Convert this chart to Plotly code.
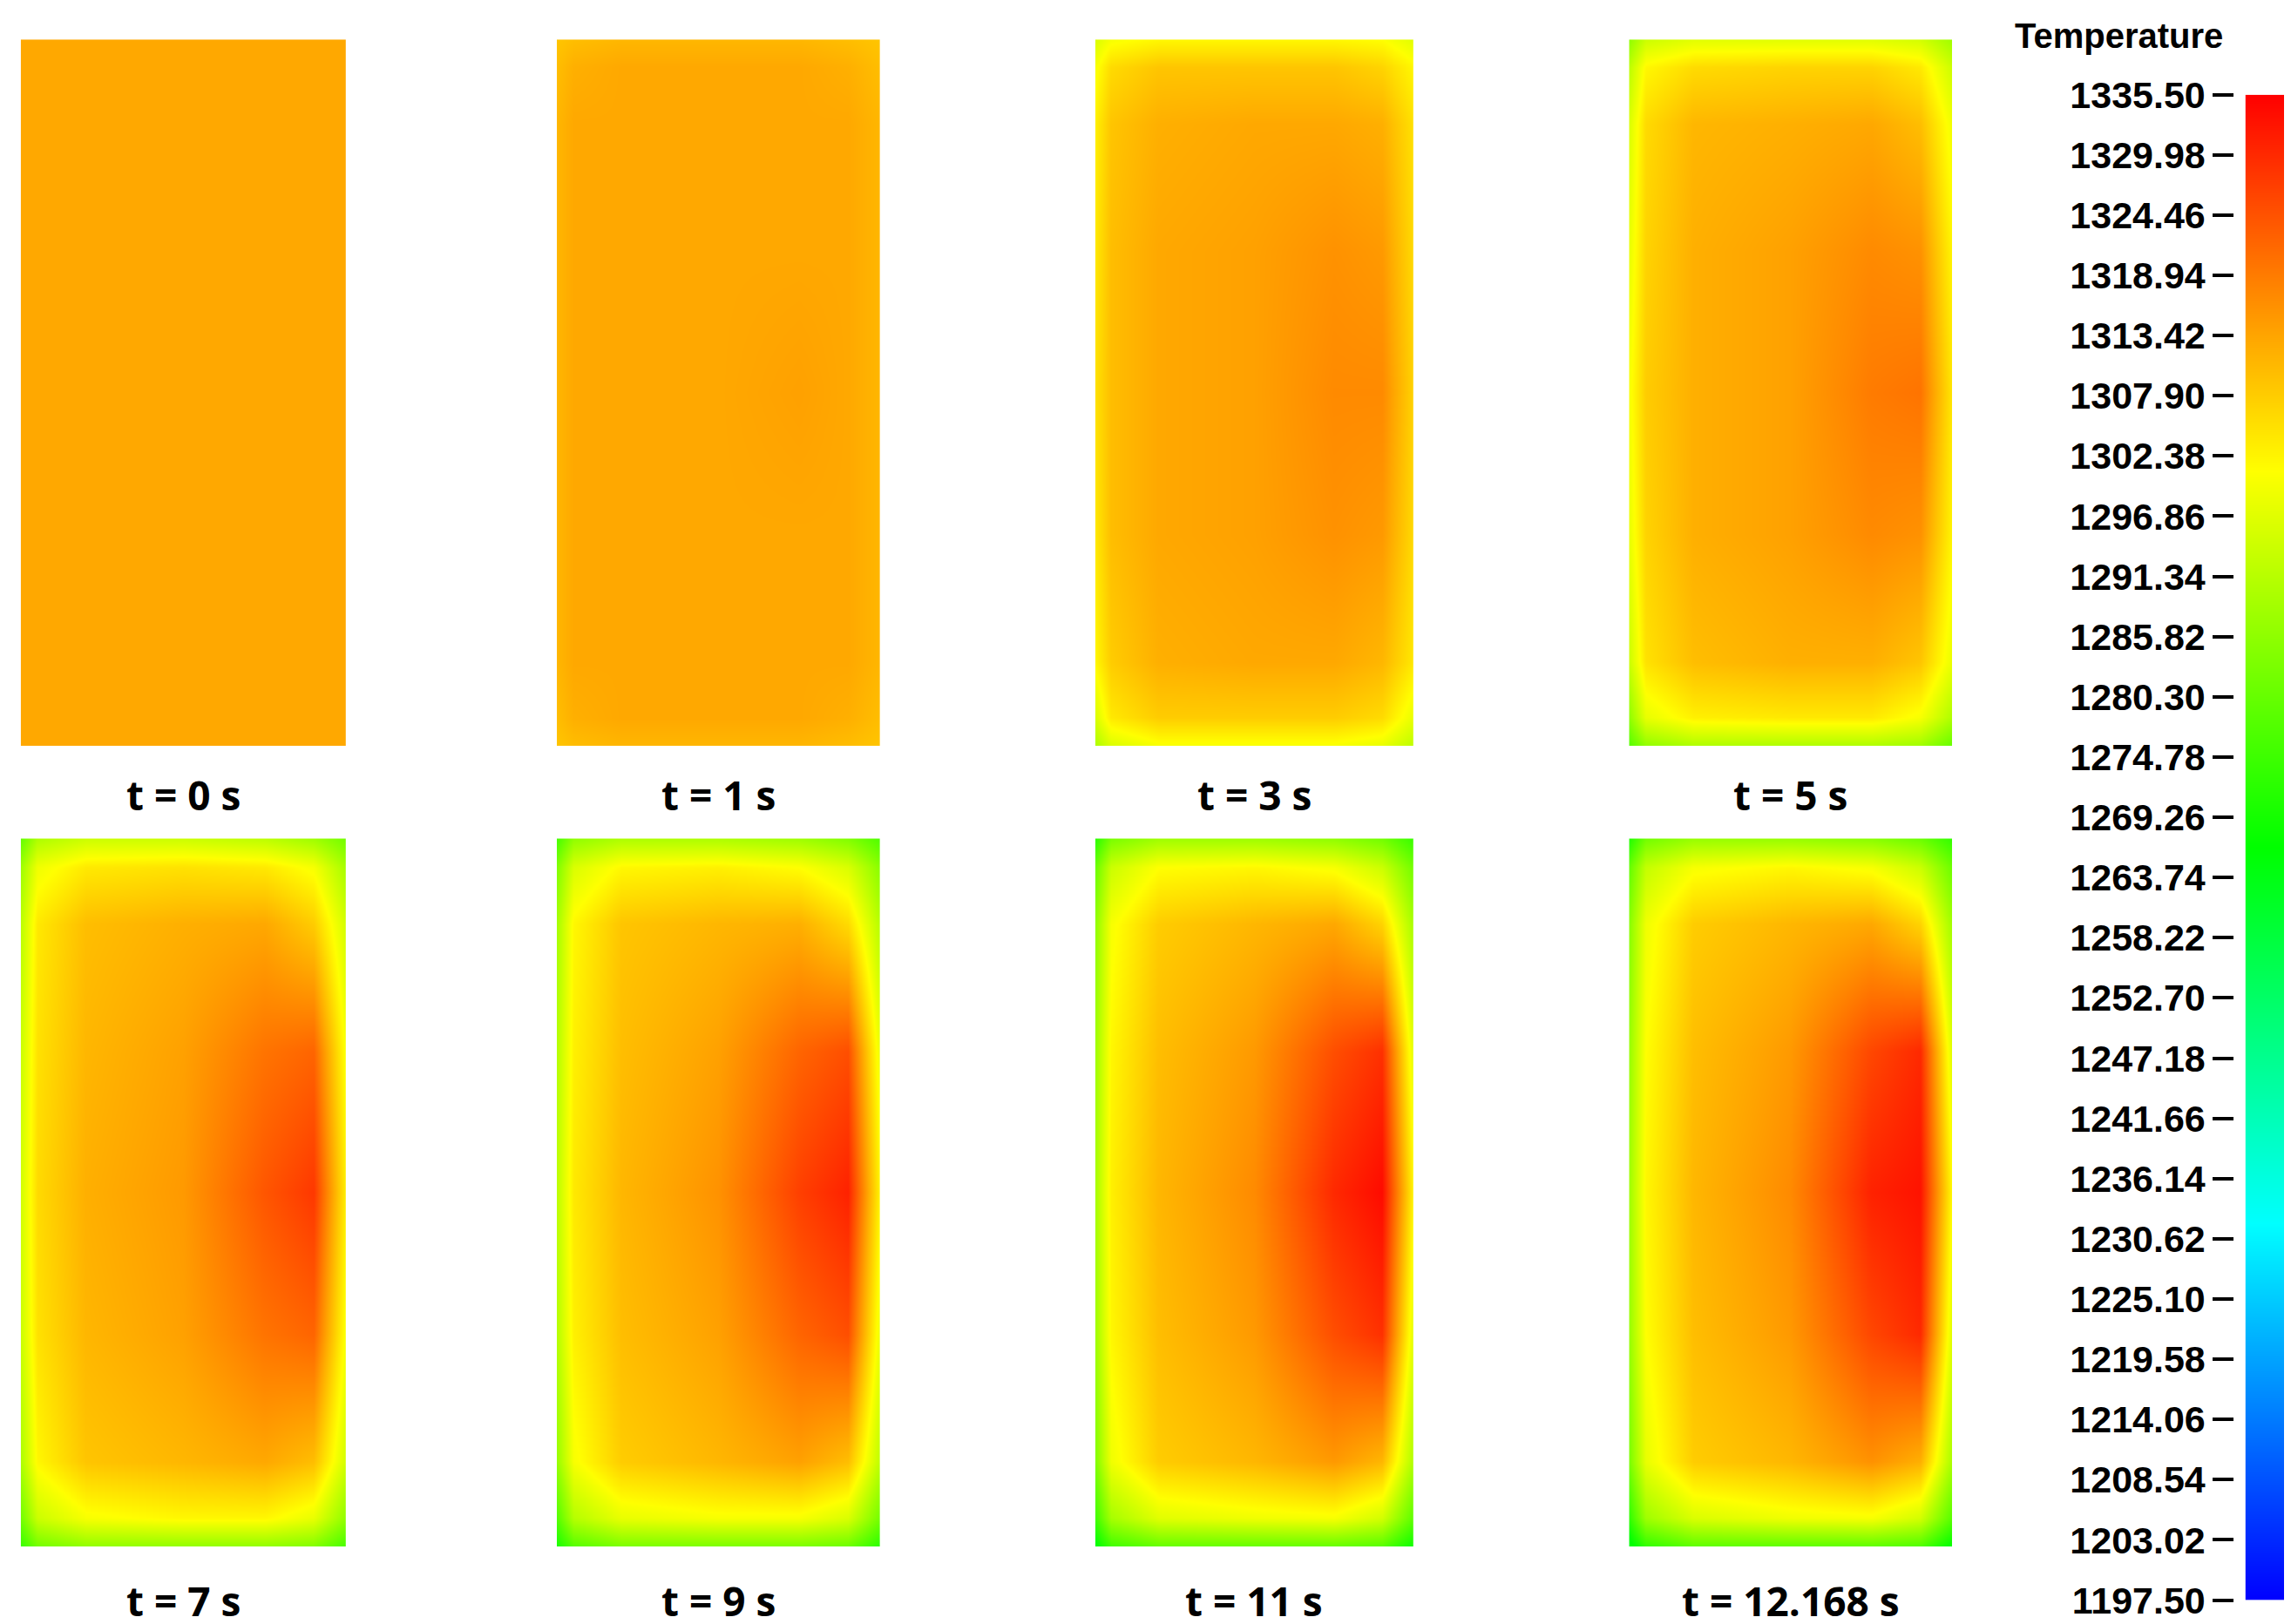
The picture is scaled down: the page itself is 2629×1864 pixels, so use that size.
import plotly.graph_objects as go

labels = ["t = 0 s", "t = 1 s", "t = 3 s", "t = 5 s", "t = 7 s", "t = 9 s", "t = 11 s", "t = 12.168 s"]
xs = [0, 0.05, 0.2, 0.5, 0.75, 0.9, 1]
ys = [0, 0.04, 0.12, 0.3, 0.5, 0.7, 0.88, 0.96, 1]

t0 = [[1313]*7 for _ in range(9)]
t1 = [
 [1309,1310,1311,1311,1311,1310,1309],
 [1310,1312,1313,1313,1313,1312,1310],
 [1311,1313,1313,1313,1313,1313,1311],
 [1311,1313,1313,1313,1313,1313,1311],
 [1311,1313,1313,1313,1314,1313,1311],
 [1311,1313,1313,1313,1313,1313,1311],
 [1311,1313,1313,1313,1313,1313,1311],
 [1310,1312,1313,1313,1313,1312,1310],
 [1309,1310,1311,1311,1311,1310,1309]]
t3 = [
 [1290,1296,1300,1300,1300,1298,1292],
 [1296,1304,1308,1308,1308,1306,1298],
 [1302,1308,1312,1313,1313,1311,1304],
 [1304,1310,1313,1314,1316,1315,1306],
 [1305,1310,1313,1314,1317,1317,1307],
 [1304,1310,1313,1314,1316,1315,1306],
 [1303,1309,1312,1313,1313,1312,1305],
 [1300,1306,1309,1309,1309,1307,1302],
 [1296,1300,1302,1302,1302,1301,1297]]
t5 = [
 [1278,1286,1290,1290,1290,1288,1280],
 [1286,1298,1303,1304,1304,1300,1290],
 [1294,1305,1310,1312,1312,1309,1298],
 [1298,1307,1312,1314,1317,1316,1302],
 [1300,1308,1312,1314,1319,1320,1304],
 [1298,1307,1312,1314,1317,1316,1302],
 [1296,1306,1311,1312,1313,1310,1299],
 [1292,1302,1306,1307,1307,1304,1294],
 [1286,1294,1297,1297,1297,1295,1288]]
t7 = [
 [1274,1282,1286,1286,1286,1284,1276],
 [1282,1294,1300,1302,1302,1298,1286],
 [1290,1302,1309,1311,1313,1310,1295],
 [1294,1305,1311,1314,1320,1322,1300],
 [1295,1306,1312,1315,1324,1328,1303],
 [1294,1305,1311,1314,1320,1322,1300],
 [1292,1304,1310,1312,1313,1308,1295],
 [1288,1299,1304,1305,1304,1300,1289],
 [1280,1290,1294,1294,1292,1288,1282]]
t9 = [
 [1270,1278,1283,1283,1283,1281,1272],
 [1278,1291,1298,1300,1300,1296,1282],
 [1287,1300,1308,1311,1314,1310,1292],
 [1291,1303,1310,1314,1322,1325,1298],
 [1292,1304,1311,1316,1327,1331,1302],
 [1291,1303,1310,1314,1322,1325,1298],
 [1289,1302,1309,1311,1312,1306,1291],
 [1284,1296,1302,1303,1301,1296,1285],
 [1276,1286,1290,1290,1288,1284,1277]]
t11 = [
 [1266,1275,1280,1280,1280,1278,1268],
 [1275,1289,1297,1299,1300,1295,1279],
 [1284,1299,1308,1311,1315,1311,1290],
 [1288,1302,1310,1315,1325,1329,1297],
 [1289,1303,1311,1317,1330,1334,1302],
 [1288,1302,1310,1315,1325,1329,1297],
 [1286,1300,1308,1311,1313,1307,1289],
 [1281,1294,1301,1302,1300,1294,1282],
 [1272,1283,1288,1288,1286,1282,1274]]
t12 = [
 [1264,1273,1279,1279,1279,1277,1266],
 [1273,1288,1296,1299,1300,1295,1278],
 [1283,1298,1308,1311,1316,1312,1289],
 [1287,1301,1310,1315,1326,1330,1296],
 [1288,1302,1311,1317,1331,1333,1301],
 [1287,1301,1310,1315,1326,1330,1296],
 [1285,1299,1308,1311,1313,1307,1288],
 [1280,1293,1300,1302,1300,1294,1281],
 [1271,1282,1287,1287,1285,1281,1273]]
fields = [t0, t1, t3, t5, t7, t9, t11, t12]

cbar_ticks = [1197.50,1203.02,1208.54,1214.06,1219.58,1225.10,1230.62,1236.14,1241.66,1247.18,
              1252.70,1258.22,1263.74,1269.26,1274.78,1280.30,1285.82,1291.34,1296.86,1302.38,
              1307.90,1313.42,1318.94,1324.46,1329.98,1335.50]

cs = [[0, "#0000ff"], [0.25, "#00ffff"], [0.5, "#00ff00"], [0.75, "#ffff00"], [0.84, "#ffa500"], [1, "#ff0000"]]

xdoms = [[0.006, 0.148], [0.240, 0.381], [0.475, 0.614], [0.708, 0.849]]
ydoms = [[0.545, 0.980], [0.052, 0.488]]
label_y = [0.515, 0.019]

fig = go.Figure()
layout = {}
ann = []
for i, z in enumerate(fields):
    r, c = divmod(i, 4)
    n = i + 1
    fig.add_trace(go.Heatmap(z=z, x=xs, y=ys, zsmooth="best", coloraxis="coloraxis",
                             xaxis=f"x{n}", yaxis=f"y{n}", hoverinfo="skip"))
    layout[f"xaxis{n}"] = dict(domain=xdoms[c], visible=False, range=[0, 1], anchor=f"y{n}")
    layout[f"yaxis{n}"] = dict(domain=ydoms[r], visible=False, range=[0, 1], anchor=f"x{n}")
    ann.append(dict(text=f"<b>{labels[i]}</b>", x=sum(xdoms[c]) / 2, y=label_y[r], xref="paper", yref="paper",
                    xanchor="center", yanchor="middle", showarrow=False,
                    font=dict(family="Open Sans", size=46, color="black")))

# colorbar as a narrow heatmap
fig.add_trace(go.Heatmap(z=[[v] for v in cbar_ticks], x=[0], y=cbar_ticks, zsmooth="best",
                         coloraxis="coloraxis", xaxis="x9", yaxis="y9", hoverinfo="skip"))
layout["xaxis9"] = dict(domain=[0.977, 0.994], visible=False, range=[-0.5, 0.5], anchor="y9")
layout["yaxis9"] = dict(domain=[0.019, 0.946], range=[1197.5, 1335.5], anchor="free", position=0.972,
                        side="left", tickvals=cbar_ticks, ticktext=[f"<b>{v:.2f}</b>" for v in cbar_ticks],
                        ticks="outside", ticklen=24, tickwidth=4, tickcolor="black", showgrid=False,
                        zeroline=False, showline=False,
                        tickfont=dict(family="Liberation Sans", size=43, color="black"))
ann.append(dict(text="<b>Temperature</b>", x=0.922, y=0.995, xref="paper", yref="paper", showarrow=False,
                xanchor="center", yanchor="top", font=dict(family="Liberation Sans", size=40, color="black")))

fig.update_layout(**layout)
fig.update_layout(width=2629, height=1864, margin=dict(l=0, r=0, t=0, b=0, autoexpand=False),
                  paper_bgcolor="white", plot_bgcolor="white",
                  coloraxis=dict(colorscale=cs, cmin=1197.5, cmax=1335.5, showscale=False),
                  annotations=ann, showlegend=False)
fig.write_html("out.html")
